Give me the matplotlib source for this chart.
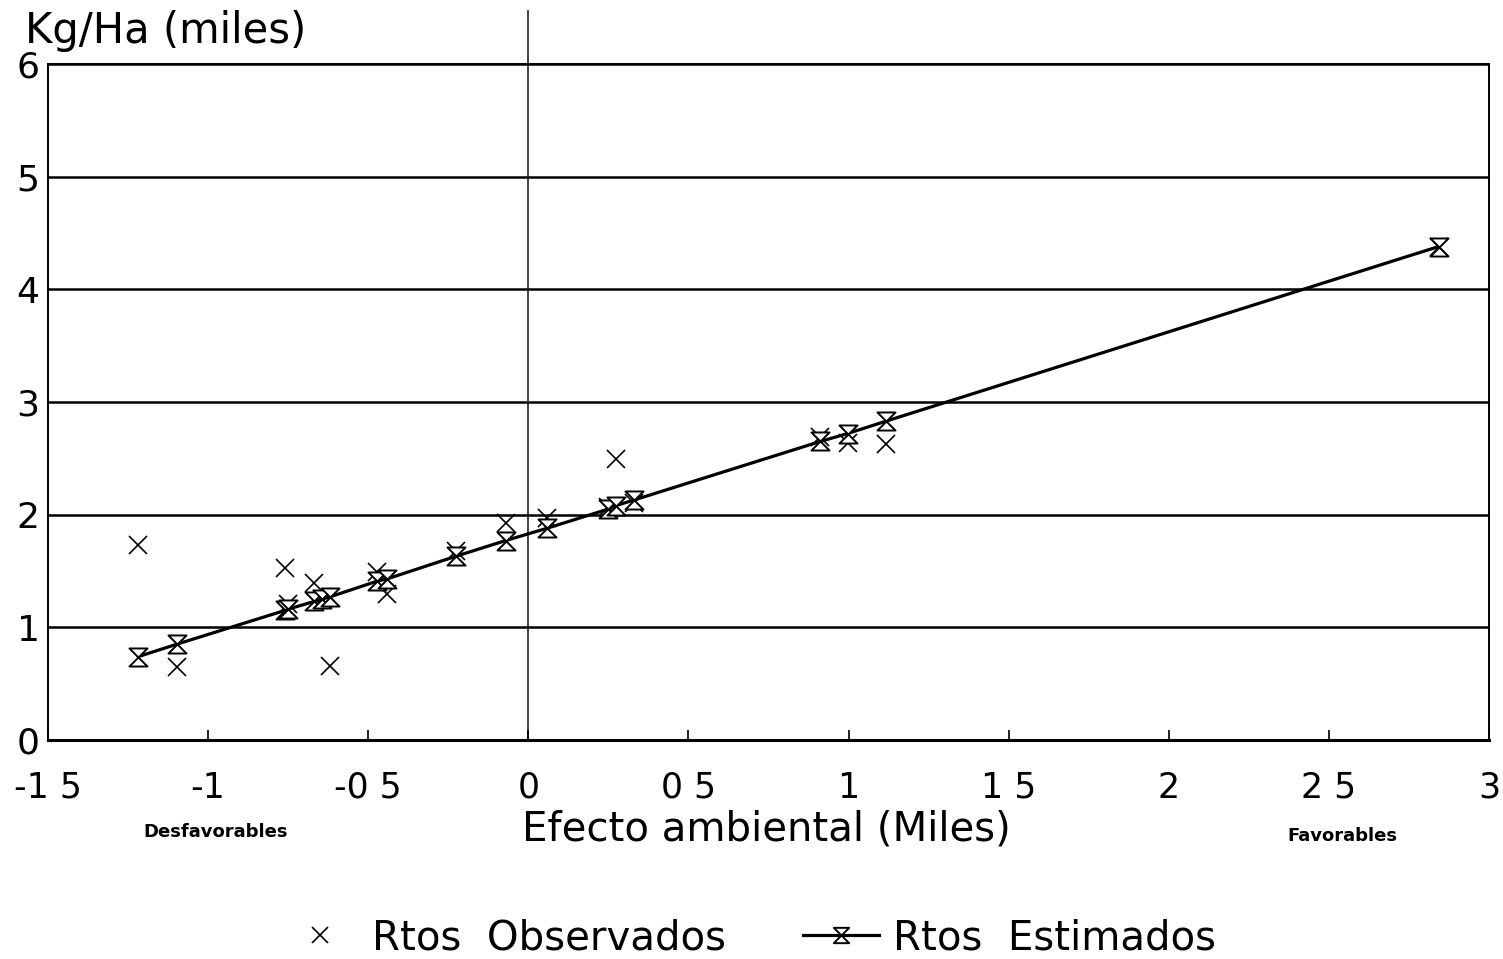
import numpy as np
import matplotlib
matplotlib.use("Agg")
import matplotlib.pyplot as plt
from matplotlib.path import Path

# efecto ambiental (miles) per environment
efecto = [-1.218, -1.098, -0.760, -0.752, -0.668, -0.645, -0.620, -0.472, -0.441,
          -0.227, -0.071, 0.059, 0.250, 0.273, 0.330, 0.912, 0.997, 1.117, 2.843]
# rendimientos observados (Kg/Ha, miles)
observados = [1.73, 0.65, 1.53, 1.21, 1.39, 1.25, 0.66, 1.49, 1.30,
              1.68, 1.93, 1.97, 2.07, 2.49, 2.10, 2.69, 2.64, 2.63, 4.38]
# rendimientos estimados (recta de regresion)
estimados = [0.74, 0.85, 1.15, 1.16, 1.23, 1.25, 1.27, 1.41, 1.43,
             1.63, 1.77, 1.88, 2.05, 2.08, 2.13, 2.65, 2.72, 2.83, 4.38]

xticks = [-1.5, -1, -0.5, 0, 0.5, 1, 1.5, 2, 2.5, 3]
xtick_labels = ["-1 5", "-1", "-0 5", "0", "0 5", "1", "1 5", "2", "2 5", "3"]
yticks = [0, 1, 2, 3, 4, 5, 6]

plt.rcParams["font.family"] = ["DejaVu Sans"]

hourglass = Path([(-1, 1), (1, 1), (-1, -1), (1, -1), (-1, 1)],
                 [Path.MOVETO, Path.LINETO, Path.LINETO, Path.LINETO, Path.CLOSEPOLY])

fig = plt.figure(figsize=(15.03, 9.59), dpi=100)
ax = fig.add_axes([48/1503, 219/959, 1441/1503, 676/959])

ax.set_xlim(-1.5, 3)
ax.set_ylim(0, 6)
for y in yticks[1:]:
    ax.axhline(y, color="black", lw=1.8, zorder=1)
ax.axvline(0, ymin=0, ymax=1.078, color="#222222", lw=1.2, clip_on=False, zorder=1)

ax.plot(efecto, observados, ls="none", marker="x", ms=13, mew=1.2, color="black",
        label="Rtos  Observados", zorder=3)
ax.plot(efecto, estimados, color="black", lw=2.3, marker=hourglass, ms=13, mew=1.4,
        mfc="white", mec="black", label="Rtos  Estimados", zorder=4)

for s in ax.spines.values():
    s.set_linewidth(1.4)
ax.spines["bottom"].set_linewidth(2.2)

ax.set_xticks(xticks)
ax.set_xticklabels(xtick_labels, fontsize=25)
ax.set_yticks(yticks)
ax.set_yticklabels([str(v) for v in yticks], fontsize=26)
ax.tick_params(axis="x", direction="in", length=7, width=1.2, pad=22)
ax.tick_params(axis="y", length=0, pad=6)

fig.text(25/1503, 1 - 31/959, "Kg/Ha (miles)", fontsize=30, va="center", ha="left")
fig.text(766/1503, 1 - 830/959, "Efecto ambiental (Miles)", fontsize=29, va="center", ha="center")
fig.text(216/1503, 1 - 832/959, "Desfavorables", fontsize=13, fontweight="bold", va="center", ha="center")
fig.text(1342/1503, 1 - 836/959, "Favorables", fontsize=13, fontweight="bold", va="center", ha="center")

fig.legend(loc="center", bbox_to_anchor=(749/1503, 1 - 938/959), ncol=2, frameon=False,
           fontsize=29, handlelength=1.9, handletextpad=0.35, columnspacing=1.9,
           markerscale=0.85)

fig.savefig("out.png", dpi=100)
